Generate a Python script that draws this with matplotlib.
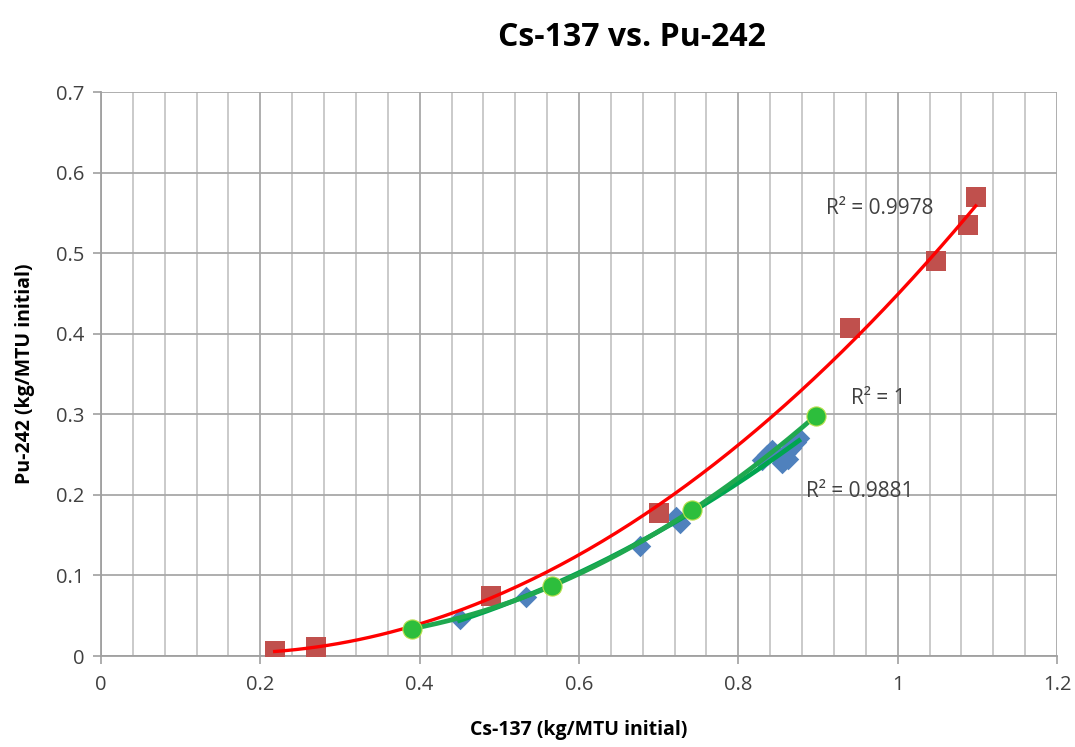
import numpy as np
import matplotlib
matplotlib.use("Agg")
import matplotlib.pyplot as plt
from matplotlib.ticker import MultipleLocator

# ---- data ----
red_x = [0.218, 0.270, 0.490, 0.701, 0.940, 1.048, 1.088, 1.098]
red_y = [0.006, 0.011, 0.075, 0.177, 0.407, 0.490, 0.535, 0.570]

blue_x = [0.450, 0.534, 0.677, 0.722, 0.727, 0.830, 0.836, 0.842, 0.848,
          0.855, 0.860, 0.862, 0.866, 0.872, 0.876]
blue_y = [0.046, 0.073, 0.137, 0.172, 0.165, 0.243, 0.250, 0.256, 0.248,
          0.240, 0.252, 0.245, 0.258, 0.265, 0.270]

green_x = [0.391, 0.566, 0.742, 0.897]
green_y = [0.034, 0.087, 0.181, 0.298]

r2_labels = ["R² = 0.9978", "R² = 1", "R² = 0.9881"]
r2_pos = [(0.910, 0.556), (0.942, 0.320), (0.885, 0.204)]

x_ticks = [0, 0.2, 0.4, 0.6, 0.8, 1.0, 1.2]
x_ticklabels = ["0", "0.2", "0.4", "0.6", "0.8", "1", "1.2"]
y_ticks = [0, 0.1, 0.2, 0.3, 0.4, 0.5, 0.6, 0.7]
y_ticklabels = ["0", "0.1", "0.2", "0.3", "0.4", "0.5", "0.6", "0.7"]

plt.rcParams['font.family'] = ['Open Sans', 'DejaVu Sans']

fig = plt.figure(figsize=(10.75, 7.47), dpi=100)
ax = fig.add_axes([101/1075, 1-656/747, (1057-101)/1075, (656-92)/747])

ax.set_xlim(0, 1.2)
ax.set_ylim(0, 0.7)

# grid
ax.xaxis.set_minor_locator(MultipleLocator(0.04))
ax.set_xticks(x_ticks)
ax.set_xticklabels(x_ticklabels)
ax.set_yticks(y_ticks)
ax.set_yticklabels(y_ticklabels)
ax.grid(True, which='minor', axis='x', color='#C6C6C6', lw=1.3, zorder=0)
ax.grid(True, which='major', axis='x', color='#A8A8A8', lw=1.3, zorder=0)
ax.grid(True, which='major', axis='y', color='#A8A8A8', lw=1.3, zorder=0)
ax.tick_params(axis='x', which='minor', length=0)
ax.tick_params(axis='both', which='major', direction='out', length=6,
               color='#A0A0A0', width=1.2, labelsize=14.5, labelcolor='#404040')
ax.tick_params(axis='x', pad=8)
ax.tick_params(axis='y', pad=6)
for s in ['top', 'right']:
    ax.spines[s].set_visible(False)
for s in ['left', 'bottom']:
    ax.spines[s].set_color('#A0A0A0')
    ax.spines[s].set_linewidth(1.3)

# markers
ax.scatter(blue_x, blue_y, marker='D', s=120, color='#4F81BD', zorder=3, linewidths=0)
ax.scatter(red_x, red_y, marker='s', s=210, color='#C0504D', zorder=3, linewidths=0)

# trendlines (fitted from the data)
rc = np.polyfit(red_x, red_y, 2)
xr = np.linspace(min(red_x), max(red_x), 200)
ax.plot(xr, np.polyval(rc, xr), color='#FF0000', lw=2.4, zorder=4)

bc = np.polyfit(blue_x, blue_y, 2)
xb = np.linspace(min(blue_x), max(blue_x), 200)
ax.plot(xb, np.polyval(bc, xb), color='#00A550', lw=3.4, zorder=4)

gc = np.polyfit(green_x, green_y, 3)
xg = np.linspace(min(green_x), max(green_x), 200)
ax.plot(xg, np.polyval(gc, xg), color='#1FA84F', lw=3.4, zorder=4)

ax.scatter(green_x, green_y, marker='o', s=190, color='#2DBE3C', zorder=5,
           edgecolors='#B8E04A', linewidths=0.8)

for lab, (tx, ty) in zip(r2_labels, r2_pos):
    ax.text(tx, ty, lab, fontsize=15, color='#404040', va='center', ha='left', zorder=6)

# titles
fig.text(632/1075, 1-38/747, "Cs-137 vs. Pu-242", fontsize=23, fontweight='bold',
         ha='center', va='center', color='#000000')
ax.set_xlabel("Cs-137 (kg/MTU initial)", fontsize=14, fontweight='bold', labelpad=18)
ax.set_ylabel("Pu-242 (kg/MTU initial)", fontsize=14, fontweight='bold', labelpad=15)

fig.savefig("out.png", dpi=100)
